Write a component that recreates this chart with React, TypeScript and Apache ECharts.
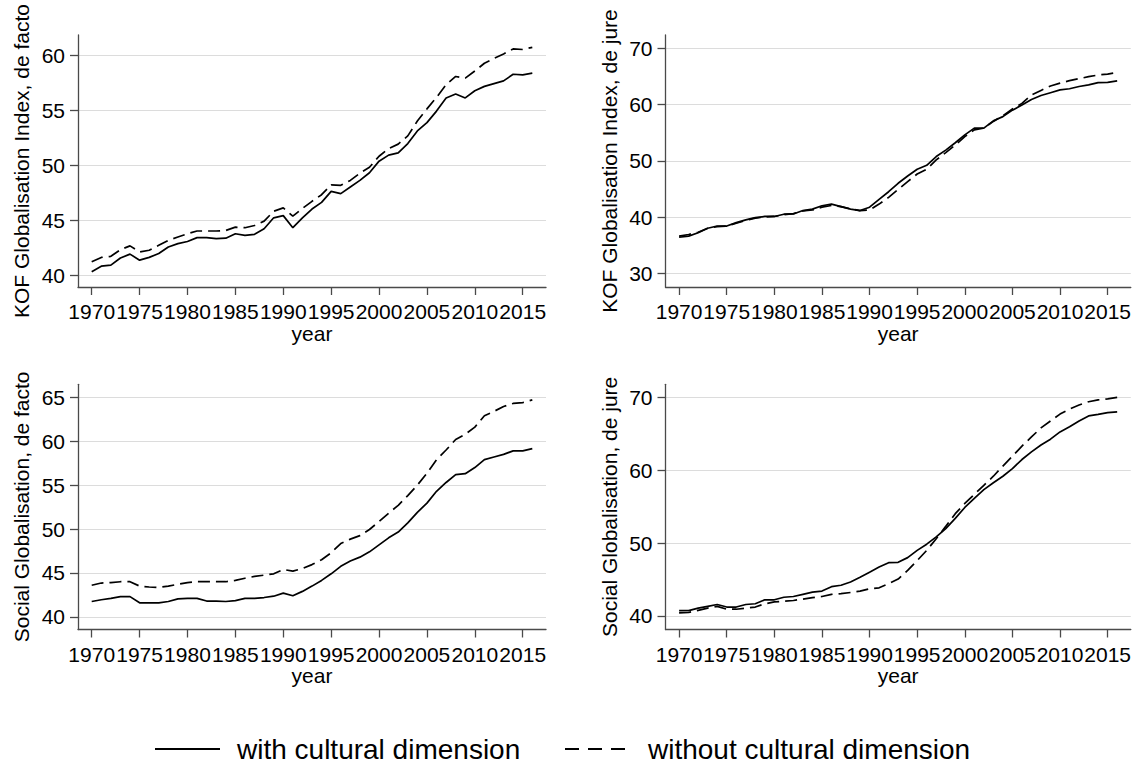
import React, { useEffect, useRef } from "react";
import * as echarts from "echarts";

const YEARS = [
  1970, 1971, 1972, 1973, 1974, 1975, 1976, 1977, 1978, 1979,
  1980, 1981, 1982, 1983, 1984, 1985, 1986, 1987, 1988, 1989,
  1990, 1991, 1992, 1993, 1994, 1995, 1996, 1997, 1998, 1999,
  2000, 2001, 2002, 2003, 2004, 2005, 2006, 2007, 2008, 2009,
  2010, 2011, 2012, 2013, 2014, 2015, 2016,
];
const X_TICKS = [1970, 1975, 1980, 1985, 1990, 1995, 2000, 2005, 2010, 2015];

const SERIES_WITH = "with cultural dimension";
const SERIES_WITHOUT = "without cultural dimension";

// KOF Globalisation Index, de facto
const kofDeFactoWith = [
  40.3, 40.8, 40.9, 41.55, 41.9, 41.35, 41.6, 41.95, 42.55, 42.85,
  43.05, 43.4, 43.4, 43.3, 43.35, 43.75, 43.6, 43.7, 44.2, 45.2,
  45.4, 44.3, 45.2, 46.0, 46.6, 47.6, 47.4, 48.0, 48.6, 49.3,
  50.35, 50.9, 51.1, 51.95, 53.1, 53.85, 54.9, 56.1, 56.45, 56.1,
  56.75, 57.15, 57.4, 57.65, 58.25, 58.2, 58.35,
];
const kofDeFactoWithout = [
  41.2, 41.6, 41.7, 42.3, 42.65, 42.1, 42.25, 42.7, 43.15, 43.45,
  43.75, 44.0, 44.0, 44.0, 44.05, 44.35, 44.3, 44.5, 44.9, 45.8,
  46.1, 45.35, 46.05, 46.7, 47.3, 48.2, 48.15, 48.6, 49.25, 49.8,
  50.8, 51.5, 51.9, 52.65, 54.0, 55.1, 56.15, 57.3, 58.05, 57.9,
  58.55, 59.25, 59.7, 60.1, 60.55, 60.5, 60.7,
];
const kofDeFactoTicks = [40, 45, 50, 55, 60];

// KOF Globalisation Index, de jure
const kofDeJureWith = [
  36.4, 36.6, 37.2, 38.0, 38.4, 38.4, 39.0, 39.5, 39.9, 40.1,
  40.1, 40.5, 40.55, 41.15, 41.4, 42.0, 42.3, 41.85, 41.4, 41.15,
  41.75, 43.15, 44.5, 46.0, 47.3, 48.5, 49.2, 50.75, 51.9, 53.2,
  54.6, 55.8, 55.8, 57.1, 57.85, 59.0, 59.9, 60.9, 61.6, 62.1,
  62.6, 62.8, 63.2, 63.5, 63.9, 63.95, 64.2,
];
const kofDeJureWithout = [
  36.6, 36.9, 37.3, 38.0, 38.3, 38.4, 38.9, 39.4, 39.8, 40.0,
  40.1, 40.4, 40.6, 41.1, 41.25, 41.75, 42.05, 41.85, 41.45, 41.15,
  41.25, 42.3, 43.5, 44.9, 46.3, 47.65, 48.5, 50.15, 51.45, 52.8,
  54.3, 55.5, 55.8, 57.0, 58.0, 59.2, 60.2, 61.7, 62.5, 63.3,
  63.8, 64.25, 64.6, 64.95, 65.25, 65.4, 65.7,
];
const kofDeJureTicks = [30, 40, 50, 60, 70];

// Social Globalisation, de facto
const socialDeFactoWith = [
  41.75, 41.95, 42.1, 42.3, 42.3, 41.6, 41.6, 41.6, 41.75, 42.05,
  42.1, 42.1, 41.8, 41.8, 41.75, 41.85, 42.1, 42.1, 42.2, 42.35,
  42.7, 42.4, 42.9, 43.5, 44.15, 44.9, 45.75, 46.35, 46.8, 47.4,
  48.2, 49.0, 49.65, 50.7, 51.9, 52.95, 54.3, 55.3, 56.2, 56.3,
  57.0, 57.9, 58.2, 58.5, 58.9, 58.9, 59.15,
];
const socialDeFactoWithout = [
  43.6, 43.85, 43.9, 44.0, 44.0, 43.5, 43.4, 43.35, 43.5, 43.7,
  43.9, 44.0, 44.0, 44.0, 44.0, 44.15, 44.4, 44.6, 44.75, 44.9,
  45.4, 45.2, 45.5, 45.95, 46.5, 47.3, 48.35, 48.85, 49.25, 49.95,
  50.85, 51.8, 52.7, 53.8, 55.0, 56.35, 57.9, 59.0, 60.2, 60.8,
  61.6, 62.9, 63.4, 63.95, 64.3, 64.4, 64.7,
];
const socialDeFactoTicks = [40, 45, 50, 55, 60, 65];

// Social Globalisation, de jure
const socialDeJureWith = [
  40.7, 40.7, 41.05, 41.3, 41.55, 41.2, 41.2, 41.55, 41.65, 42.2,
  42.2, 42.55, 42.65, 42.95, 43.25, 43.4, 44.0, 44.2, 44.65, 45.3,
  46.0, 46.7, 47.3, 47.35, 48.0, 49.0, 49.85, 50.85, 52.0, 53.4,
  54.9, 56.15, 57.35, 58.3, 59.2, 60.25, 61.5, 62.55, 63.5, 64.3,
  65.3, 66.0, 66.8, 67.5, 67.7, 67.95, 68.05,
];
const socialDeJureWithout = [
  40.4, 40.45, 40.75, 41.05, 41.3, 40.9, 40.9, 41.05, 41.2, 41.65,
  41.9, 42.0, 42.1, 42.3, 42.5, 42.65, 42.95, 43.05, 43.2, 43.4,
  43.7, 43.85, 44.4, 45.05, 46.25, 47.6, 49.0, 50.6, 52.3, 54.05,
  55.45, 56.7, 57.95, 59.2, 60.6, 61.95, 63.35, 64.6, 65.85, 66.8,
  67.75, 68.45, 69.0, 69.45, 69.7, 69.85, 70.05,
];
const socialDeJureTicks = [40, 50, 60, 70];

const FONT = "'Liberation Sans', Arial, sans-serif";
const AXIS_COLOR = "#4a4a4a";
const DASH = [12, 6];

const panels = [
  {
    title: "KOF Globalisation Index, de facto",
    withData: kofDeFactoWith,
    withoutData: kofDeFactoWithout,
    ticks: kofDeFactoTicks,
    yMin: 38.91,
    yMax: 61.82,
    xNameGap: 21,
    grid: { left: 78, top: 35, width: 468, height: 252 },
  },
  {
    title: "KOF Globalisation Index, de jure",
    withData: kofDeJureWith,
    withoutData: kofDeJureWithout,
    ticks: kofDeJureTicks,
    yMin: 27.56,
    yMax: 72.36,
    xNameGap: 21,
    grid: { left: 665.5, top: 35, width: 467.5, height: 252 },
  },
  {
    title: "Social Globalisation, de facto",
    withData: socialDeFactoWith,
    withoutData: socialDeFactoWithout,
    ticks: socialDeFactoTicks,
    yMin: 38.56,
    yMax: 66.48,
    xNameGap: 25,
    grid: { left: 78, top: 384.3, width: 468, height: 245.2 },
  },
  {
    title: "Social Globalisation, de jure",
    withData: socialDeJureWith,
    withoutData: socialDeJureWithout,
    ticks: socialDeJureTicks,
    yMin: 38.11,
    yMax: 71.85,
    xNameGap: 25,
    grid: { left: 665.5, top: 384.3, width: 467.5, height: 245.2 },
  },
];

function buildOption() {
  const grid: any[] = [];
  const xAxis: any[] = [];
  const yAxis: any[] = [];
  const series: any[] = [];
  panels.forEach((p, i) => {
    grid.push({ ...p.grid, containLabel: false });
    xAxis.push({
      type: "value",
      gridIndex: i,
      min: 1968.57,
      max: 2017.43,
      name: "year",
      nameLocation: "middle",
      nameGap: p.xNameGap,
      nameTextStyle: { fontSize: 21, color: "#000", fontFamily: FONT },
      axisLine: { show: true, onZero: false, lineStyle: { color: AXIS_COLOR, width: 1.3 } },
      axisTick: { show: true, customValues: X_TICKS, length: 8, lineStyle: { color: AXIS_COLOR, width: 1.3 } },
      axisLabel: {
        customValues: X_TICKS,
        fontSize: 21,
        color: "#000",
        fontFamily: FONT,
        margin: 14,
        formatter: (v: number) => String(v),
      },
      splitLine: { show: false },
    });
    yAxis.push({
      type: "value",
      gridIndex: i,
      min: p.yMin,
      max: p.yMax,
      name: p.title,
      nameLocation: "middle",
      nameGap: 46,
      nameTextStyle: { fontSize: 21, color: "#000", fontFamily: FONT },
      axisLine: { show: true, onZero: false, lineStyle: { color: AXIS_COLOR, width: 1.3 } },
      axisTick: { show: true, customValues: p.ticks, length: 8, lineStyle: { color: AXIS_COLOR, width: 1.3 } },
      axisLabel: {
        customValues: p.ticks,
        fontSize: 21,
        color: "#000",
        fontFamily: FONT,
        margin: 13,
        formatter: (v: number) => String(v),
      },
      splitLine: { show: true, lineStyle: { color: "#dcdcdc", width: 1 } },
    });
    series.push({
      name: SERIES_WITH,
      type: "line",
      xAxisIndex: i,
      yAxisIndex: i,
      data: YEARS.map((y, k) => [y, p.withData[k]]),
      symbol: "none",
      showSymbol: false,
      lineStyle: { color: "#000", width: 1.7, type: "solid" },
      silent: true,
      z: 3,
    });
    series.push({
      name: SERIES_WITHOUT,
      type: "line",
      xAxisIndex: i,
      yAxisIndex: i,
      data: YEARS.map((y, k) => [y, p.withoutData[k]]),
      symbol: "none",
      showSymbol: false,
      lineStyle: { color: "#000", width: 1.7, type: DASH },
      silent: true,
      z: 2,
    });
  });

  const legendY = 749;
  const graphic = [
    {
      type: "line",
      shape: { x1: 155, y1: legendY, x2: 220, y2: legendY },
      style: { stroke: "#000", lineWidth: 2 },
      silent: true,
    },
    {
      type: "text",
      x: 237,
      y: legendY,
      style: {
        text: SERIES_WITH,
        fontSize: 28,
        fontFamily: FONT,
        fill: "#000",
        textVerticalAlign: "middle",
        verticalAlign: "middle",
      },
      silent: true,
    },
    {
      type: "line",
      shape: { x1: 565, y1: legendY, x2: 630, y2: legendY },
      style: { stroke: "#000", lineWidth: 2, lineDash: [14, 9] },
      silent: true,
    },
    {
      type: "text",
      x: 648,
      y: legendY,
      style: {
        text: SERIES_WITHOUT,
        fontSize: 28,
        fontFamily: FONT,
        fill: "#000",
        textVerticalAlign: "middle",
        verticalAlign: "middle",
      },
      silent: true,
    },
  ];

  return {
    animation: false,
    backgroundColor: "#fff",
    textStyle: { fontFamily: FONT },
    grid,
    xAxis,
    yAxis,
    series,
    graphic,
  };
}

export default function App() {
  const ref = useRef<HTMLDivElement>(null);
  useEffect(() => {
    if (!ref.current) return;
    const chart = echarts.init(ref.current, null, { renderer: "svg" });
    chart.setOption(buildOption() as any);
    return () => chart.dispose();
  }, []);
  return (
    <div
      ref={ref}
      style={{ position: "absolute", left: 0, top: 0, width: 1134, height: 764 }}
    />
  );
}
